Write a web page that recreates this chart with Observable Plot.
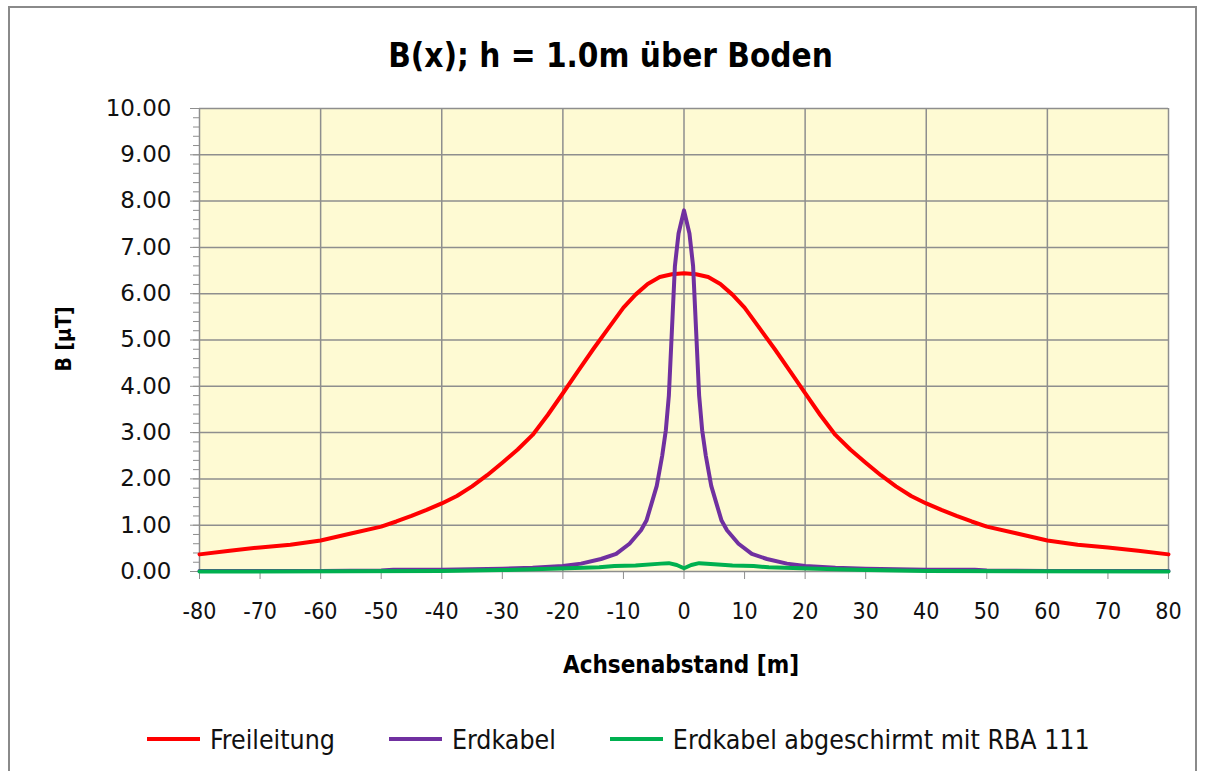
<!DOCTYPE html>
<html>
<head>
<meta charset="utf-8">
<script src="https://cdn.jsdelivr.net/npm/d3@7"></script>
<script src="https://cdn.jsdelivr.net/npm/@observablehq/plot@0.6"></script>
<style>
  html, body { margin: 0; padding: 0; background: #fff; }
  #wrap { position: relative; width: 1211px; height: 771px; overflow: hidden; }
  #border { position: absolute; left: 8px; top: 6px; width: 1189px; height: 800px; border: 2px solid #8a8a8a; box-sizing: border-box; }
  #chart { position: absolute; left: 0; top: 0; }
  .title { position: absolute; left: 10px; width: 1201px; top: 39px; text-align: center;
           font-family: "DejaVu Sans Condensed", "DejaVu Sans", sans-serif; font-weight: bold; font-size: 33px; line-height: 1; color: #000; }
  .xlabel { position: absolute; left: 481px; width: 400px; top: 653px; text-align: center;
            font-family: "DejaVu Sans Condensed", "DejaVu Sans", sans-serif; font-weight: bold; font-size: 24px; line-height: 1; color: #000; }
  .ylabel { position: absolute; left: 64px; top: 339px; transform: translate(-50%, -50%) rotate(-90deg); white-space: nowrap;
            font-family: "DejaVu Sans Condensed", "DejaVu Sans", sans-serif; font-weight: bold; font-size: 21px; line-height: 1; color: #000; }
  #legend { position: absolute; left: 147px; top: 724px; height: 30px; display: flex; align-items: center;
            font-family: "DejaVu Sans Condensed", "DejaVu Sans", sans-serif; font-size: 26.5px; color: #111; }
  .item { display: flex; align-items: center; margin-right: 54px; }
  .swatch { width: 53px; height: 4px; margin-right: 10px; }
</style>
</head>
<body>
<div id="wrap">
  <div id="border"></div>
  <div id="chart"></div>
  <div class="title">B(x); h = 1.0m über Boden</div>
  <div class="ylabel">B [µT]</div>
  <div class="xlabel">Achsenabstand [m]</div>
  <div id="legend"></div>
</div>
<script>
// ---- data ----
const seriesNames = ["Freileitung", "Erdkabel", "Erdkabel abgeschirmt mit RBA 111"];
const seriesColors = ["#FF0000", "#7030A0", "#00B050"];

const xFreileitung = [-80,-75,-70,-65,-60,-55,-50,-47.5,-45,-42.5,-40,-37.5,-35,-32.5,-30,-27.5,-25,-22.5,-20,-17.5,-15,-12.5,-10,-8,-6,-4,-2,0,2,4,6,8,10,12.5,15,17.5,20,22.5,25,27.5,30,32.5,35,37.5,40,42.5,45,47.5,50,55,60,65,70,75,80];
const yFreileitung = [0.37,0.45,0.52,0.58,0.67,0.82,0.97,1.08,1.20,1.33,1.47,1.63,1.84,2.08,2.35,2.63,2.95,3.38,3.85,4.33,4.80,5.25,5.70,5.98,6.21,6.36,6.42,6.44,6.42,6.36,6.21,5.98,5.70,5.25,4.80,4.33,3.85,3.38,2.95,2.63,2.35,2.08,1.84,1.63,1.47,1.33,1.20,1.08,0.97,0.82,0.67,0.58,0.52,0.45,0.37];

const xErdkabel = [-80,-60,-50,-48,-40,-30,-25,-20,-17,-13.7,-11.2,-9,-7.1,-6.2,-5.4,-4.5,-3.6,-3,-2.5,-2,-1.5,-0.9,0,0.9,1.5,2,2.5,3,3.6,4.5,5.4,6.2,7.1,9,11.2,13.7,17,20,25,30,40,48,50,60,80];
const yErdkabel = [0.01,0.01,0.02,0.04,0.04,0.06,0.08,0.12,0.17,0.27,0.38,0.60,0.89,1.10,1.45,1.85,2.50,3.05,3.80,5.20,6.60,7.30,7.80,7.30,6.60,5.20,3.80,3.05,2.50,1.85,1.45,1.10,0.89,0.60,0.38,0.27,0.17,0.12,0.08,0.06,0.04,0.04,0.02,0.01,0.01];

const xAbgeschirmt = [-80,-40,-30,-22,-14,-11.5,-8,-3.8,-2.5,-1.2,0,1.2,2.5,3.8,8,11.5,14,22,30,40,80];
const yAbgeschirmt = [0,0.01,0.03,0.06,0.09,0.12,0.13,0.17,0.18,0.14,0.07,0.14,0.18,0.17,0.13,0.12,0.09,0.06,0.03,0.01,0];

const xTickValues = [-80,-70,-60,-50,-40,-30,-20,-10,0,10,20,30,40,50,60,70,80];
const xGridValues = [-80,-60,-40,-20,0,20,40,60,80];
const yTickValues = [0,1,2,3,4,5,6,7,8,9,10];
const yMinorValues = d3.range(0, 50.5, 1).map(d => d / 5);

// ---- build ----
const seriesX = [xFreileitung, xErdkabel, xAbgeschirmt];
const seriesY = [yFreileitung, yErdkabel, yAbgeschirmt];
const lines = seriesNames.map((name, i) =>
  Plot.line(seriesX[i].map((x, j) => ({x, y: seriesY[i][j]})), {
    x: "x", y: "y", stroke: seriesColors[i], strokeWidth: 4, strokeLinejoin: "round", strokeLinecap: "round"
  })
);

const gridColor = "#8e8e8e";
const chart = Plot.plot({
  width: 1211,
  height: 700,
  marginLeft: 199,
  marginRight: 43,
  marginTop: 108,
  marginBottom: 129,
  x: {domain: [-80, 80]},
  y: {domain: [0, 10]},
  style: {background: "transparent", color: "#000", overflow: "visible"},
  marks: [
    Plot.frame({fill: "#FEFAD3", stroke: null}),
    Plot.gridX({ticks: xGridValues, stroke: gridColor, strokeOpacity: 1, strokeWidth: 1.5}),
    Plot.gridY({ticks: yTickValues, stroke: gridColor, strokeOpacity: 1, strokeWidth: 1.5}),
    Plot.axisY({ticks: yMinorValues, tickSize: 6, tickFormat: () => "", fill: "none", stroke: "#8e8e8e", label: null}),
    Plot.axisY({ticks: yTickValues, tickSize: 9, tickPadding: 19, tickFormat: d => d.toFixed(2),
                fontSize: 23, fontFamily: "DejaVu Sans", stroke: "#8e8e8e", fill: "#111", label: null}),
    Plot.axisX({ticks: xTickValues, tickSize: 8, tickPadding: 23, tickFormat: d => String(d),
                fontSize: 23, fontFamily: "DejaVu Sans Condensed", stroke: "#8e8e8e", fill: "#111", label: null}),
    ...lines
  ]
});
document.getElementById("chart").appendChild(chart);

// ---- legend ----
const legend = document.getElementById("legend");
seriesNames.forEach((name, i) => {
  const item = document.createElement("div");
  item.className = "item";
  const sw = document.createElement("span");
  sw.className = "swatch";
  sw.style.background = seriesColors[i];
  const tx = document.createElement("span");
  tx.textContent = name;
  item.appendChild(sw);
  item.appendChild(tx);
  legend.appendChild(item);
});
</script>
</body>
</html>
